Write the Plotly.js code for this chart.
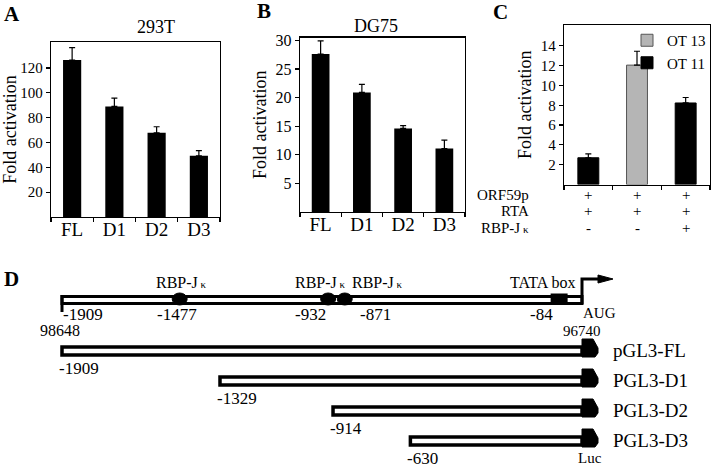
<!DOCTYPE html>
<html><head><meta charset="utf-8">
<script src="https://cdn.plot.ly/plotly-3.0.1.min.js"></script>
<style>html,body{margin:0;padding:0;background:#fff}#chart{width:713px;height:468px}</style>
</head><body><div id="chart"></div>
<script>
// ---------- Panel A (293T) ----------
const categoriesAB = ['FL', 'D1', 'D2', 'D3'];
const fold293T = [126.5, 89.1, 67.9, 49.3];
const err293T = [9.9, 6.7, 4.8, 4.1];
// ---------- Panel B (DG75) ----------
const foldDG75 = [27.6, 20.9, 14.6, 11.1];
const errDG75 = [2.3, 1.4, 0.5, 1.45];
// ---------- Panel C ----------
const conditionsC = ['c1', 'c2', 'c3'];
const foldOT13 = [null, 12.05, null];
const errOT13 = [null, 1.4, null];
const foldOT11 = [2.7, null, 8.23];
const errOT11 = [0.4, null, 0.55];
const factorNames = ['ORF59p', 'RTA', 'RBP-J<span style="font-size:11px"> κ</span>'];
const factorSigns = [['+', '+', '+'], ['+', '+', '+'], ['-', '-', '+']];
// ---------- Panel D (promoter map, bp relative to AUG) ----------
const promoterStart = -1909;
const promoterEnd = 0;
const startCoordinate = '98648';
const augCoordinate = '96740';
const siteNames = ['RBP-J<span style="font-size:11px"> κ</span>', 'RBP-J<span style="font-size:11px"> κ</span>', 'RBP-J<span style="font-size:11px"> κ</span>'];
const sitePositions = [-1477, -932, -871];
const tataPosition = -84;
const constructNames = ['pGL3-FL', 'PGL3-D1', 'PGL3-D2', 'PGL3-D3'];
const constructStarts = [-1909, -1329, -914, -630];

// ---------- layout helpers ----------
const W = 713, H = 468;
const px = v => v / W;
const py = v => 1 - v / H;
const FONT = '"Liberation Serif", "Times New Roman", Times, serif';
const BLACK = '#000';

// D panel geometry (layout only)
const D_LEFT_PX = 62, D_RIGHT_PX = 582;
const dScale = (D_RIGHT_PX - D_LEFT_PX) / (promoterEnd - promoterStart);
const xRangeD = [promoterStart - D_LEFT_PX / dScale, promoterEnd + (W - D_RIGHT_PX) / dScale];
const ROW1_PX = 351, ROW_STEP = 30, D_TOP_PX = 260;
const rowOf = p => 1 + (p - ROW1_PX) / ROW_STEP;
const MAIN_ROW = rowOf(300);
const yRangeD = [rowOf(H), rowOf(D_TOP_PX)];

const errBar = arr => ({
  type: 'data', symmetric: false, array: arr,
  arrayminus: arr.map(v => (v == null ? null : 0)),
  color: BLACK, thickness: 1.2, width: 3
});

const traces = [
  { type: 'bar', x: categoriesAB, y: fold293T, xaxis: 'x', yaxis: 'y',
    marker: { color: BLACK }, error_y: errBar(err293T), showlegend: false, hoverinfo: 'skip' },
  { type: 'bar', x: categoriesAB, y: foldDG75, xaxis: 'x2', yaxis: 'y2',
    marker: { color: BLACK }, error_y: errBar(errDG75), showlegend: false, hoverinfo: 'skip' },
  { type: 'bar', name: 'OT 13', x: conditionsC, y: foldOT13, xaxis: 'x3', yaxis: 'y3',
    marker: { color: '#b5b5b5', line: { color: '#555', width: 1 } }, error_y: errBar(errOT13), hoverinfo: 'skip' },
  { type: 'bar', name: 'OT 11', x: conditionsC, y: foldOT11, xaxis: 'x3', yaxis: 'y3',
    marker: { color: BLACK, line: { color: BLACK, width: 1 } }, error_y: errBar(errOT11), hoverinfo: 'skip' },
  { type: 'scatter', mode: 'markers', x: [], y: [], xaxis: 'x4', yaxis: 'y4', showlegend: false, hoverinfo: 'skip' }
];

const catAxis = (dom, anchor) => ({
  domain: dom, anchor: anchor, type: 'category', tickson: 'boundaries',
  ticks: 'outside', ticklen: 4, tickwidth: 1.2, tickcolor: BLACK, ticklabelstandoff: -5,
  showline: true, linecolor: BLACK, linewidth: 1.3, mirror: true, showgrid: false,
  tickfont: { family: FONT, size: 19, color: BLACK }, fixedrange: true
});
const valAxis = (dom, anchor, range, tickvals, tsize, standoff) => ({
  domain: dom, anchor: anchor, range: range, tickvals: tickvals,
  ticks: 'outside', ticklen: 4, tickwidth: 1.2, tickcolor: BLACK,
  showline: true, linecolor: BLACK, linewidth: 1.3, mirror: true, showgrid: false, zeroline: false,
  tickfont: { family: FONT, size: tsize, color: BLACK }, fixedrange: true,
  title: { text: 'Fold activation', font: { family: FONT, size: 18, color: BLACK }, standoff: standoff }
});

const xaxisC = catAxis([px(564), px(710)], 'y3');
xaxisC.showticklabels = false;

const layout = {
  width: W, height: H,
  margin: { l: 0, r: 0, t: 0, b: 0 },
  paper_bgcolor: '#fff', plot_bgcolor: 'rgba(0,0,0,0)',
  font: { family: FONT, color: BLACK },
  barmode: 'overlay', bargap: 0.57,
  showlegend: true,
  legend: { x: px(627), y: py(24), xanchor: 'left', yanchor: 'top', bgcolor: 'rgba(0,0,0,0)',
            font: { family: FONT, size: 15, color: BLACK }, itemwidth: 30, tracegroupgap: 0 },
  xaxis: catAxis([px(51), px(220)], 'y'),
  yaxis: valAxis([py(217), py(42)], 'x', [0, 141], [20, 40, 60, 80, 100, 120], 15, 3),
  xaxis2: catAxis([px(300), px(465)], 'y2'),
  yaxis2: valAxis([py(212), py(37.5)], 'x2', [0, 30.5], [5, 10, 15, 20, 25, 30], 16, 4),
  xaxis3: xaxisC,
  yaxis3: valAxis([py(184.5), py(25)], 'x3', [0, 16.1], [2, 4, 6, 8, 10, 12, 14], 15, 4),
  xaxis4: { domain: [0, 1], anchor: 'y4', range: xRangeD, visible: false, fixedrange: true },
  yaxis4: { domain: [0, py(D_TOP_PX)], anchor: 'x4', range: yRangeD, visible: false, fixedrange: true },
  annotations: [],
  shapes: []
};

const A = layout.annotations, S = layout.shapes;
const txt = (text, size, extra) => Object.assign({ text: text, showarrow: false, borderpad: 0,
  font: { family: FONT, size: size, color: BLACK } }, extra);

// Panel letters and titles
[['A', 3, 14], ['B', 256, 11], ['C', 492, 12], ['D', 3, 279]].forEach(([t, x, y]) =>
  A.push(txt('<b>' + t + '</b>', 21, { xref: 'paper', yref: 'paper', x: px(x), y: py(y), xanchor: 'left', yanchor: 'middle' })));
A.push(txt('293T', 18, { xref: 'paper', yref: 'paper', x: px(135.5), y: py(27), yanchor: 'middle' }));
A.push(txt('DG75', 18, { xref: 'paper', yref: 'paper', x: px(376), y: py(26), yanchor: 'middle' }));

// Panel C factor table
const factorRowsPx = [195, 211.5, 228];
factorNames.forEach((name, r) => {
  A.push(txt(name, 15, { xref: 'paper', yref: 'paper', x: px(530), y: py(factorRowsPx[r]), yanchor: 'middle' }));
  factorSigns[r].forEach((s, c) => A.push(txt(s, 15, { xref: 'x3', yref: 'paper', x: conditionsC[c], y: py(factorRowsPx[r]), yanchor: 'middle' })));
});

// Panel D
const dRef = { xref: 'x4', yref: 'y4' };
const pixShape = (xa, ya, extra) => Object.assign({ xref: 'x4', yref: 'y4', xsizemode: 'pixel', ysizemode: 'pixel',
  xanchor: xa, yanchor: ya }, extra);

// main promoter line (double line)
S.push({ type: 'rect', xref: 'x4', yref: 'y4', x0: promoterStart, x1: promoterEnd, ysizemode: 'pixel', yanchor: MAIN_ROW,
         y0: -3.5, y1: 3.5, line: { color: BLACK, width: 3 }, fillcolor: '#fff' });
S.push(pixShape(promoterStart, MAIN_ROW, { type: 'line', x0: 0, x1: 0, y0: 5, y1: -12, line: { color: BLACK, width: 3 } }));
S.push(pixShape(promoterEnd, MAIN_ROW, { type: 'path', path: 'M0,-4 L0,21 L18,21', line: { color: BLACK, width: 3 }, fillcolor: 'rgba(0,0,0,0)' }));
S.push(pixShape(promoterEnd, MAIN_ROW, { type: 'path', path: 'M16,25 L31,21 L16,17 Z', line: { color: BLACK, width: 1 }, fillcolor: BLACK }));
sitePositions.forEach(p => S.push(pixShape(p, MAIN_ROW, { type: 'circle', x0: -7.5, x1: 7.5, y0: -5, y1: 7, line: { color: BLACK, width: 1 }, fillcolor: BLACK })));
S.push(pixShape(tataPosition, MAIN_ROW, { type: 'rect', x0: -8.5, x1: 8.5, y0: -4.5, y1: 6.5, line: { color: BLACK, width: 0 }, fillcolor: BLACK }));

// labels on main line
const siteLabelShift = [2, -8, 33];
const siteNumShift = [-3, -18, 31];
sitePositions.forEach((p, i) => {
  A.push(txt(siteNames[i], 16, Object.assign({ x: p, y: MAIN_ROW, yshift: 18, xshift: siteLabelShift[i] }, dRef)));
  A.push(txt(String(p), 17, Object.assign({ x: p, y: MAIN_ROW, yshift: -14, xshift: siteNumShift[i] }, dRef)));
});
A.push(txt('TATA box', 16, Object.assign({ x: tataPosition, y: MAIN_ROW, yshift: 18, xshift: -17 }, dRef)));
A.push(txt(String(tataPosition), 17, Object.assign({ x: tataPosition, y: MAIN_ROW, yshift: -14, xshift: -18 }, dRef)));
A.push(txt(String(promoterStart), 17, Object.assign({ x: promoterStart, y: MAIN_ROW, yshift: -14, xanchor: 'left', xshift: 0 }, dRef)));
A.push(txt(startCoordinate, 16, Object.assign({ x: promoterStart, y: MAIN_ROW, yshift: -30, xshift: -2 }, dRef)));
A.push(txt('AUG', 15, Object.assign({ x: promoterEnd, y: MAIN_ROW, yshift: -13, xanchor: 'left', xshift: 0 }, dRef)));
A.push(txt(augCoordinate, 15, Object.assign({ x: promoterEnd, y: MAIN_ROW, yshift: -31, xshift: 0 }, dRef)));

// deletion constructs
constructStarts.forEach((s, i) => {
  const row = i + 1;
  S.push({ type: 'rect', xref: 'x4', yref: 'y4', x0: s, x1: promoterEnd, ysizemode: 'pixel', yanchor: row,
           y0: -4, y1: 4, line: { color: BLACK, width: 3.5 }, fillcolor: '#fff' });
  S.push(pixShape(promoterEnd, row, { type: 'path', path: 'M0,-6 L0,12 L11,12 L16,3 L16,-2 L13,-6 Z', line: { color: BLACK, width: 1 }, fillcolor: BLACK }));
  A.push(txt(String(s), 17, Object.assign({ x: s, y: row, yshift: -17, xanchor: 'left', xshift: -4 }, dRef)));
  A.push(txt(constructNames[i], 19, Object.assign({ x: promoterEnd, y: row, xanchor: 'left', xshift: 30, yshift: 1 }, dRef)));
});
A.push(txt('Luc', 15, Object.assign({ x: promoterEnd, y: constructStarts.length, yshift: -17, xshift: 8 }, dRef)));

Plotly.newPlot('chart', traces, layout, { staticPlot: true, displayModeBar: false });
</script>
</body></html>
